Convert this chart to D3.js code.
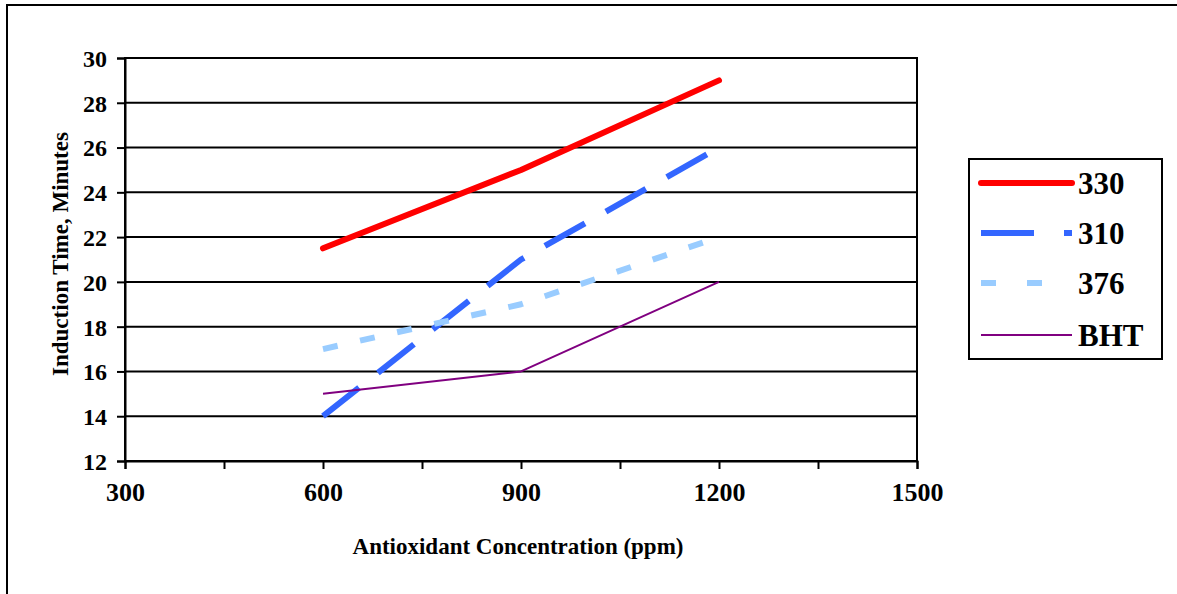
<!DOCTYPE html>
<html><head><meta charset="utf-8">
<script src="https://cdn.jsdelivr.net/npm/d3@7"></script>
<style>body{margin:0;background:#fff}svg{display:block}text{font-family:"Liberation Serif","Times New Roman",serif;font-weight:bold;fill:#000}</style>
</head><body>
<script>
const concentrations = [600, 900, 1200];
const s330 = [21.5, 25, 29];
const s310 = [14, 21, 26];
const s376 = [17, 19, 22];
const sBHT = [15, 16, 20];
const seriesNames = ["330", "310", "376", "BHT"];
const xTickLabels = [300, 600, 900, 1200, 1500];
const yTickLabels = [12, 14, 16, 18, 20, 22, 24, 26, 28, 30];

const W = 1177, H = 594;
const svg = d3.select("body").append("svg").attr("width", W).attr("height", H);
svg.append("rect").attr("x", 7).attr("y", 5).attr("width", W).attr("height", H)
  .attr("fill", "#fff").attr("stroke", "#000").attr("stroke-width", 2);

const L = 125, R = 917, T = 58, B = 461;
const x = d3.scaleLinear().domain([300, 1500]).range([L, R]);
const y = d3.scaleLinear().domain([12, 30]).range([B, T]);

// gridlines
svg.append("g").selectAll("line").data(yTickLabels).join("line")
  .attr("x1", L).attr("x2", R).attr("y1", d => y(d)).attr("y2", d => y(d))
  .attr("stroke", "#000").attr("stroke-width", 2);
svg.append("rect").attr("x", L).attr("y", T).attr("width", R - L).attr("height", B - T)
  .attr("fill", "none").attr("stroke", "#000").attr("stroke-width", 2);

// y axis
const yAxis = d3.axisLeft(y).tickValues(yTickLabels).tickSize(8).tickPadding(10).tickFormat(d3.format("d"));
const gy = svg.append("g").attr("transform", `translate(${L},0)`).call(yAxis);
gy.select(".domain").attr("stroke-width", 2);
gy.selectAll(".tick line").attr("stroke-width", 2);
gy.selectAll("text").style("font-size", "24px").attr("dy", "0.35em");

// x axis
const xTicksAll = d3.range(300, 1501, 150);
const xAxis = d3.axisBottom(x).tickValues(xTicksAll).tickSize(8).tickPadding(14)
  .tickFormat(d => xTickLabels.includes(d) ? d : "");
const gx = svg.append("g").attr("transform", `translate(0,${B})`).call(xAxis);
gx.select(".domain").attr("stroke-width", 2);
gx.selectAll(".tick line").attr("stroke-width", 2);
gx.selectAll("text").style("font-size", "26px");

// titles
svg.append("text").attr("x", 518).attr("y", 554).attr("text-anchor", "middle")
  .style("font-size", "23px").text("Antioxidant Concentration (ppm)");
svg.append("text").attr("transform", "translate(68,254) rotate(-90)").attr("text-anchor", "middle")
  .style("font-size", "23px").text("Induction Time, Minutes");

const styles = [
  {vals: s330, color: "#FF0000", w: 6, dash: null, cap: "round"},
  {vals: s310, color: "#3366FF", w: 6, dash: "46,24", cap: "butt"},
  {vals: s376, color: "#99CCFF", w: 6, dash: "15,23", cap: "butt"},
  {vals: sBHT, color: "#800080", w: 2, dash: null, cap: "butt"}
];
const line = d3.line().x(d => x(d[0])).y(d => y(d[1]));
styles.forEach(s => {
  svg.append("path").datum(concentrations.map((c, i) => [c, s.vals[i]]))
    .attr("d", line).attr("fill", "none").attr("stroke", s.color)
    .attr("stroke-width", s.w).attr("stroke-dasharray", s.dash)
    .attr("stroke-linecap", s.cap).attr("stroke-linejoin", "round");
});

// legend
const lg = svg.append("g");
lg.append("rect").attr("x", 969).attr("y", 159).attr("width", 193).attr("height", 200)
  .attr("fill", "#fff").attr("stroke", "#000").attr("stroke-width", 2);
const legDash = ["", "53,30", "15,31", ""];
seriesNames.forEach((n, i) => {
  const s = styles[i];
  const yy = [183, 233, 283, 335][i];
  lg.append("line").attr("x1", 981).attr("x2", 1072).attr("y1", yy).attr("y2", yy)
    .attr("stroke", s.color).attr("stroke-width", s.w)
    .attr("stroke-dasharray", legDash[i] || null).attr("stroke-linecap", s.cap);
  lg.append("text").attr("x", 1078).attr("y", yy + 11).style("font-size", "31px").text(n);
});
</script>
</body></html>
